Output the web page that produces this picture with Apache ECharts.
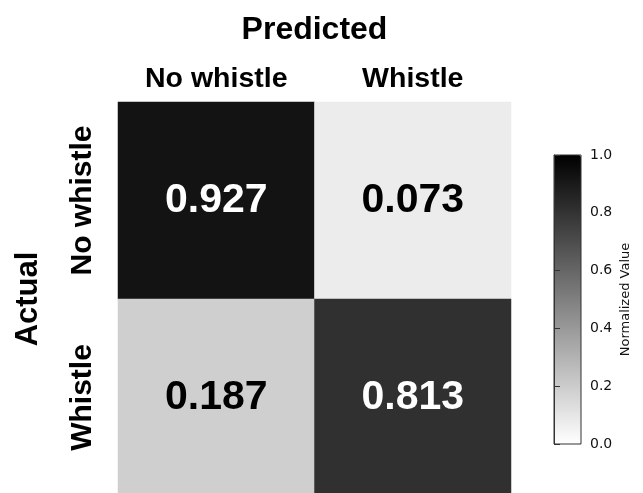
<!DOCTYPE html>
<html>
<head>
<meta charset="utf-8">
<script src="https://cdn.jsdelivr.net/npm/echarts@6/dist/echarts.min.js"></script>
<style>
  html, body { margin: 0; padding: 0; background: #fff; }
  #chart { width: 643px; height: 493px; }
</style>
</head>
<body>
<div id="chart"></div>
<script>
const predictedLabels = ['No whistle', 'Whistle'];
const actualLabels = ['No whistle', 'Whistle'];
// rows = actual, cols = predicted
const matrixValues = [
  [0.927, 0.073],
  [0.187, 0.813]
];
const colorbarTicks = [0, 0.2, 0.4, 0.6, 0.8, 1.0];

const boldFont = '"Liberation Sans", Arial, sans-serif';
const plainFont = '"DejaVu Sans", sans-serif';

const cells = [];
matrixValues.forEach((row, r) => {
  row.forEach((v, c) => {
    cells.push({
      value: [c, r, v],
      label: { color: v > 0.5 ? '#fff' : '#000' }
    });
  });
});

const chart = echarts.init(document.getElementById('chart'));

const option = {
  backgroundColor: '#fff',
  animation: false,
  grid: [
    { left: 118, right: 132, top: 102, bottom: -3, outerBoundsMode: 'none', containLabel: false },
    {
      left: 554, top: 155, width: 27, height: 289,
      outerBoundsMode: 'none', containLabel: false,
      show: true, z: 10,
      backgroundColor: 'transparent',
      borderColor: '#333', borderWidth: 1
    }
  ],
  xAxis: [
    {
      type: 'category',
      gridIndex: 0,
      data: predictedLabels,
      position: 'top',
      axisLine: { show: false },
      axisTick: { show: false },
      splitArea: { show: false },
      axisLabel: {
        fontFamily: boldFont, fontWeight: 'bold', fontSize: 28.5,
        color: '#000', margin: 8
      },
      name: 'Predicted',
      nameLocation: 'middle',
      nameGap: 56,
      nameTextStyle: {
        fontFamily: boldFont, fontWeight: 'bold', fontSize: 32, color: '#000'
      }
    },
    { type: 'value', gridIndex: 1, show: false, min: 0, max: 1 }
  ],
  yAxis: [
    {
      type: 'category',
      gridIndex: 0,
      data: actualLabels,
      inverse: true,
      axisLine: { show: false },
      axisTick: { show: false },
      axisLabel: {
        fontFamily: boldFont, fontWeight: 'bold', fontSize: 30,
        color: '#000', rotate: 90, margin: 20
      },
      name: 'Actual',
      nameLocation: 'middle',
      nameGap: 74,
      nameRotate: 90,
      nameTextStyle: {
        fontFamily: boldFont, fontWeight: 'bold', fontSize: 31, color: '#000'
      }
    },
    {
      type: 'value',
      gridIndex: 1,
      position: 'right',
      min: 0, max: 1, interval: 0.2,
      z: 10,
      splitLine: { show: false },
      axisLine: { show: true, lineStyle: { color: '#333', width: 1 } },
      axisTick: { show: true, length: 6, lineStyle: { color: '#333' } },
      axisLabel: {
        fontFamily: plainFont, fontSize: 14, color: '#111', margin: 9,
        formatter: v => colorbarTicks.includes(+v.toFixed(1)) ? v.toFixed(1) : ''
      },
      name: 'Normalized Value',
      nameLocation: 'middle',
      nameRotate: 90,
      nameGap: 38,
      nameTextStyle: { fontFamily: plainFont, fontSize: 13, color: '#111' }
    }
  ],
  visualMap: {
    type: 'continuous',
    seriesIndex: 0,
    min: 0, max: 1,
    calculable: false,
    hoverLink: false,
    left: 554, top: 155,
    padding: 0,
    itemWidth: 27, itemHeight: 289,
    text: null,
    showLabel: false,
    inRange: { color: ['#ffffff', '#000000'] }
  },
  series: [
    {
      type: 'heatmap',
      xAxisIndex: 0,
      yAxisIndex: 0,
      data: cells,
      label: {
        show: true,
        fontFamily: boldFont, fontWeight: 'bold', fontSize: 41,
        formatter: p => p.value[2].toFixed(3)
      },
      itemStyle: { borderWidth: 0 },
      emphasis: { disabled: true }
    }
  ]
};

chart.setOption(option);
</script>
</body>
</html>
